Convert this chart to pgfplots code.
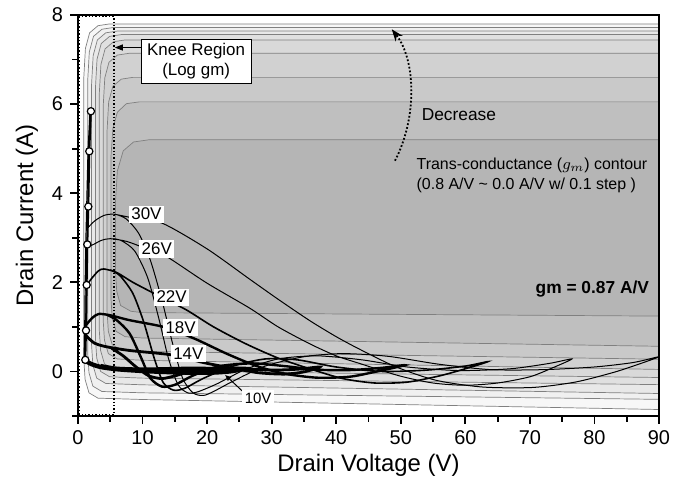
\documentclass[border=0pt]{standalone}
\usepackage{pgfplots}
\pgfplotsset{compat=1.18}
\usepackage{fontspec}
\setmainfont{Liberation Sans}
\usetikzlibrary{arrows.meta}

% gray levels of the filled gm contour bands (0.0 A/V outermost ... 0.8 A/V innermost)
\colorlet{gA}{black!3}
\colorlet{gB}{black!6}
\colorlet{gC}{black!9}
\colorlet{gD}{black!12}
\colorlet{gE}{black!15}
\colorlet{gF}{black!18}
\colorlet{gG}{black!21}
\colorlet{gH}{black!25}
\colorlet{gI}{black!29}

\begin{document}
\begin{tikzpicture}
\begin{axis}[
  scale only axis, width=290.5bp, height=200.5bp,
  xmin=0, xmax=90, ymin=-1, ymax=8,
  xtick={0,10,...,90}, minor xtick={5,15,...,85},
  ytick={0,2,4,6,8}, minor ytick={-1,1,3,5,7},
  tick align=outside, tick pos=left,
  major tick length=4bp, minor tick length=3bp,
  every tick/.style={black, line width=0.9bp},
  axis line style={line width=1.2bp},
  axis on top,
  /pgf/number format/assume math mode=true,
  tick label style={font=\fontsize{10}{12}\selectfont},
  xlabel={Drain Voltage (V)}, ylabel={Drain Current (A)},
  label style={font=\fontsize{12}{14}\selectfont},
  xlabel style={at={(axis description cs:0.5,-0.122)}, anchor=center},
  ylabel style={at={(axis description cs:-0.088,0.5)}, anchor=center},
]

% ---- filled trans-conductance contours ----
\addplot[fill=gA, draw=black!50, line width=0.35bp] coordinates {
 (92,-0.86) (10,-0.63) (3.1,-0.60) (1.7,-0.48) (1.1,-0.18) (0.9,0.27)
 (0.9,6.6) (1.15,7.25) (1.8,7.6) (3.1,7.76) (4.9,7.80) (92,7.80)} -- cycle;
\addplot[fill=gB, draw=black!50, line width=0.35bp] coordinates {
 (92,-0.63) (10,-0.48) (3.7,-0.45) (2.3,-0.33) (1.7,-0.03) (1.5,0.42)
 (1.5,6.52) (1.75,7.17) (2.4,7.52) (3.7,7.68) (5.5,7.72) (92,7.72)} -- cycle;
\addplot[fill=gC, draw=black!50, line width=0.35bp] coordinates {
 (92,-0.50) (10,-0.30) (4.3,-0.27) (2.9,-0.15) (2.3,0.15) (2.1,0.60)
 (2.1,6.44) (2.35,7.09) (3.0,7.44) (4.3,7.60) (6.1,7.64) (92,7.64)} -- cycle;
\addplot[fill=gD, draw=black!50, line width=0.35bp] coordinates {
 (92,-0.30) (10,-0.15) (4.9,-0.12) (3.5,0.0) (2.9,0.30) (2.7,0.75)
 (2.7,6.36) (2.95,7.01) (3.6,7.36) (4.9,7.52) (6.7,7.56) (92,7.56)} -- cycle;
\addplot[fill=gE, draw=black!50, line width=0.35bp] coordinates {
 (92,-0.14) (10,0.02) (5.5,0.05) (4.1,0.17) (3.5,0.47) (3.3,0.92)
 (3.3,6.24) (3.55,6.89) (4.2,7.24) (5.5,7.40) (7.3,7.44) (92,7.44)} -- cycle;
\addplot[fill=gF, draw=black!50, line width=0.35bp] coordinates {
 (92,0.04) (10,0.25) (6.1,0.28) (4.7,0.40) (4.1,0.70) (3.9,1.15)
 (3.9,5.94) (4.15,6.59) (4.8,6.94) (6.1,7.10) (7.9,7.14) (92,7.14)} -- cycle;
\addplot[fill=gG, draw=black!50, line width=0.35bp] coordinates {
 (92,0.27) (10,0.45) (6.7,0.48) (5.3,0.60) (4.7,0.90) (4.5,1.35)
 (4.5,5.40) (4.75,6.05) (5.4,6.40) (6.7,6.56) (8.5,6.60) (92,6.60)} -- cycle;
\addplot[fill=gH, draw=black!50, line width=0.35bp] coordinates {
 (92,0.56) (10,0.75) (7.3,0.78) (5.9,0.90) (5.3,1.20) (5.1,1.65)
 (5.1,4.80) (5.4,5.45) (6.1,5.82) (7.5,6.01) (9.5,6.05) (92,6.05)} -- cycle;
\addplot[fill=gI, draw=black!50, line width=0.35bp] coordinates {
 (92,1.24) (10,1.32) (8.2,1.35) (6.6,1.48) (6.0,1.80) (5.8,2.25)
 (5.8,3.80) (6.1,4.50) (7.0,4.95) (8.6,5.15) (11,5.20) (92,5.20)} -- cycle;

% ---- knee region box ----
\draw[densely dotted, line width=0.7bp] (axis cs:0.2,-0.97) rectangle (axis cs:5.6,7.96);

% ---- dynamic load-line loops ----
\pgfplotsset{loop/.style={black, smooth, tension=0.45, no markers}}
% 30 V
\addplot[loop, line width=0.5bp] coordinates {
 (1.7,3.25) (2.6,3.38) (4,3.5) (5.5,3.53) (8,3.46) (13,3.33) (20,2.75)
 (26.6,2.07) (31,1.62) (35.9,1.14) (40,0.78) (43.6,0.5) (49.3,0.1)
 (55.5,-0.2) (62.7,-0.35) (70.4,-0.36) (77,-0.24) (83,-0.02) (87,0.17)
 (90,0.33) (86,0.2) (80,0.1) (72,0.04) (64,0.04) (56,0.16) (48,0.34)
 (41,0.4) (35,0.33) (29,0.12) (24,-0.22) (21,-0.45) (19.4,-0.54)
 (17.8,-0.48) (16.2,-0.15) (14.7,0.6) (13,1.6) (11.2,2.5) (9.4,3.1)
 (7.5,3.42) (6,3.52)};
% 26 V
\addplot[loop, line width=0.5bp] coordinates {
 (1.55,2.8) (2.4,2.85) (3.6,2.94) (5,2.98) (7.5,2.92) (10.2,2.78)
 (12.2,2.7) (14.7,2.49) (20,1.98) (26.6,1.42) (31,1.0) (35.9,0.62)
 (40,0.35) (43.6,0.18) (49.8,-0.1) (55,-0.26) (60,-0.31) (65,-0.26)
 (70,-0.12) (73.5,0.08) (76.5,0.28) (73,0.18) (67,0.06) (59,0.02)
 (51,0.1) (44,0.26) (37,0.35) (31,0.28) (26,0.05) (21.5,-0.28)
 (18.5,-0.46) (17,-0.48) (15.5,-0.3) (14,0.3) (12.5,1.2) (10.8,2.1)
 (8.8,2.7) (6.8,2.93) (5.5,2.98)};
% 22 V
\addplot[loop, line width=0.8bp] coordinates {
 (1.4,1.95) (2.3,2.12) (3.2,2.26) (4,2.3) (6,2.22) (8.5,2.0) (12.2,1.72)
 (16.8,1.38) (21,1.0) (26,0.62) (31,0.3) (35.9,0.06) (41,-0.16)
 (46,-0.26) (51,-0.24) (56,-0.1) (60,0.06) (63.5,0.22) (60,0.12)
 (54,0.03) (47,0.0) (40,0.1) (34,0.26) (29,0.28) (24,0.12) (19.5,-0.15)
 (16.5,-0.38) (14.8,-0.42) (13.2,-0.25) (11.8,0.3) (10.2,1.1) (8.5,1.75)
 (6.5,2.15) (5,2.28)};
% 18 V
\addplot[loop, line width=1.2bp] coordinates {
 (1.3,1.05) (2.2,1.2) (3.2,1.29) (5,1.26) (8,1.15) (13.5,0.99)
 (18.3,0.72) (23,0.4) (27.7,0.12) (32,-0.05) (37,-0.14) (42,-0.12)
 (46,-0.01) (50.6,0.14) (47,0.08) (42,0.03) (37,0.04) (32,0.12) (27,0.18)
 (22,0.12) (18,-0.08) (15,-0.3) (13,-0.34) (11.2,-0.15) (9.8,0.3)
 (8,0.85) (6,1.15) (4.5,1.27)};
% 14 V
\addplot[loop, line width=1.4bp] coordinates {
 (1.25,0.8) (2.5,0.64) (4.2,0.56) (8,0.47) (14.6,0.37) (19.4,0.2)
 (24,0.07) (28,-0.03) (32,-0.06) (35,-0.01) (37.5,0.1) (34,0.05)
 (30,0.03) (26,0.06) (22,0.08) (18,0.02) (15,-0.1) (13,-0.16) (11,-0.1)
 (9,0.1) (7,0.35) (5.2,0.52)};
% 10 V
\addplot[loop, line width=2.2bp] coordinates {
 (1.15,0.24) (2,0.17) (3.5,0.1) (6,0.05) (10,0.01) (15,-0.02) (20,-0.03)
 (23.5,0.0) (25.5,0.06) (22,0.05) (18,0.06) (14,0.05) (10,0.04) (6,0.06)
 (3.5,0.12)};

% ---- knee points (DC I-V) ----
\addplot[black, line width=0.6bp, no markers] coordinates {
 (0.95,0.3) (1.05,1.0) (1.12,2.0) (1.22,2.9) (1.35,3.7) (1.55,4.9) (1.85,5.8)};
\addplot[black, line width=1bp, mark=*, mark size=1.8bp,
  mark options={fill=white, draw=black, line width=0.6bp}] coordinates {
 (1.13,0.26) (1.24,0.92) (1.34,1.94) (1.44,2.85) (1.6,3.70) (1.75,4.94) (2.0,5.84)};

% ---- labels ----
\tikzset{vlab/.style={fill=white, inner sep=1.3bp, font=\fontsize{8.5}{10}\selectfont}}
\node[vlab] at (axis cs:10.6,3.53) {30V};
\node[vlab] at (axis cs:12.2,2.75) {26V};
\node[vlab] at (axis cs:14.5,1.67) {22V};
\node[vlab] at (axis cs:15.9,0.99) {18V};
\node[vlab] at (axis cs:17.1,0.40) {14V};
\draw[line width=0.5bp, -{Triangle[length=3bp,width=2.4bp]}] (axis cs:25.6,-0.46) -- (axis cs:22.8,-0.08);
\node[vlab, font=\fontsize{7.5}{9}\selectfont] at (axis cs:27.9,-0.6) {10V};

\draw[line width=0.5bp, -{Triangle[length=4bp,width=3bp]}] (axis cs:10.7,7.27) -- (axis cs:5.7,7.27);
\node[draw=black, line width=0.5bp, fill=white, align=center, inner xsep=3bp, inner ysep=2bp,
  font=\fontsize{8.5}{10}\selectfont] at (axis cs:18.3,6.96) {Knee Region\\(Log gm)};

\draw[densely dotted, line width=0.9bp, -{Stealth[length=6bp,width=4.5bp]}]
  (axis cs:49.1,4.73) .. controls (axis cs:52.6,5.7) and (axis cs:52.3,7.0) .. (axis cs:48.6,7.68);
\node[font=\fontsize{8.7}{10}\selectfont] at (axis cs:59,5.76) {Decrease};
\node[anchor=west, align=left, font=\fontsize{8}{10}\selectfont, inner sep=0pt] at (axis cs:52.4,4.4)
  {Trans-conductance ($g_m$) contour\\(0.8 A/V \char`~\ 0.0 A/V w/ 0.1 step )};
\node[anchor=east, font=\bfseries\fontsize{8.7}{10}\selectfont, inner sep=0pt] at (axis cs:88.5,1.84) {gm = 0.87 A/V};
\end{axis}
\pgfresetboundingbox
\path[use as bounding box] ([shift={(-39bp,-33.5bp)}]current axis.south west)
  rectangle ([shift={(15bp,7.5bp)}]current axis.north east);
\end{tikzpicture}
\end{document}
